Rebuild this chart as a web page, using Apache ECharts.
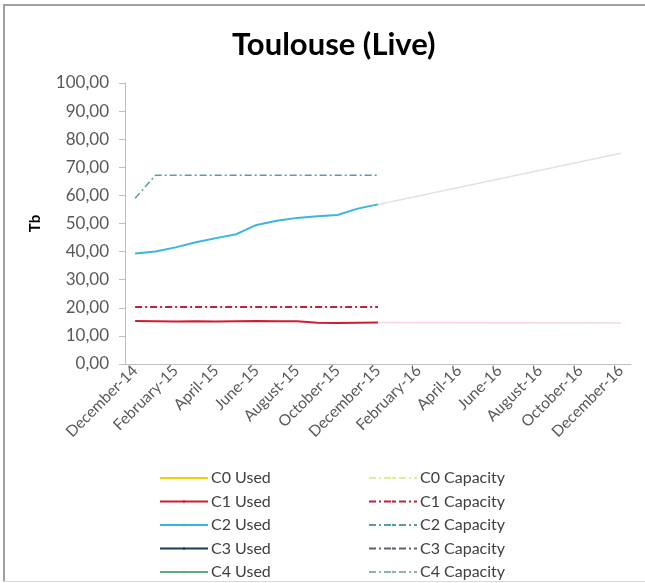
<!DOCTYPE html>
<html>
<head>
<meta charset="utf-8">
<script src="https://cdn.jsdelivr.net/npm/echarts@6/dist/echarts.min.js"></script>
<style>
html,body{margin:0;padding:0;background:#fff;}
#chart{width:645px;height:583px;}
</style>
</head>
<body>
<div id="chart"></div>
<script>
const months = ['December-14','January-15','February-15','March-15','April-15','May-15','June-15','July-15','August-15','September-15','October-15','November-15','December-15','January-16','February-16','March-16','April-16','May-16','June-16','July-16','August-16','September-16','October-16','November-16','December-16'];
const c0Used = [];
const c1Used = [15.3, 15.2, 15.1, 15.2, 15.1, 15.2, 15.3, 15.2, 15.2, 14.7, 14.6, 14.7, 14.8];
const c2Used = [39.3, 40.0, 41.5, 43.3, 44.8, 46.2, 49.5, 51.0, 52.0, 52.6, 53.0, 55.3, 56.8];
const c3Used = [];
const c4Used = [];
const c0Capacity = [];
const c1Capacity = [20.3, 20.3, 20.3, 20.3, 20.3, 20.3, 20.3, 20.3, 20.3, 20.3, 20.3, 20.3, 20.3];
const c2Capacity = [59.0, 67.2, 67.2, 67.2, 67.2, 67.2, 67.2, 67.2, 67.2, 67.2, 67.2, 67.2, 67.2];
const c3Capacity = [];
const c4Capacity = [];
const c1Trend = [null,null,null,null,null,null,null,null,null,null,null,null,14.8,null,null,null,null,null,null,null,null,null,null,null,14.6];
const c2Trend = [null,null,null,null,null,null,null,null,null,null,null,null,56.8,null,null,null,null,null,null,null,null,null,null,null,75.0];
const yTicks = [0,10,20,30,40,50,60,70,80,90,100];

const font = 'Lato, "Open Sans", sans-serif';
const dashDot = [7,3,2,3];

function line(name, data, color, width, dashed){
  return {
    name: name, type: 'line', data: data, symbol: 'none', smooth: false,
    lineStyle: {color: color, width: width, type: dashed ? dashDot : 'solid'},
    itemStyle: {color: color}, z: 3
  };
}

const chart = echarts.init(document.getElementById('chart'), null, {renderer: 'canvas'});
chart.setOption({
  backgroundColor: '#ffffff',
  animation: false,
  title: {
    text: 'Toulouse (Live)', left: 227, top: 24,
    textStyle: {fontFamily: font, fontSize: 31, fontWeight: 'bold', color: '#000'}
  },
  graphic: [
    {type: 'rect', shape: {x: 3, y: 4, width: 2, height: 578}, style: {fill: '#a0a0a0'}},
    {type: 'rect', shape: {x: 3, y: 4, width: 642, height: 2}, style: {fill: '#a0a0a0'}},
    {type: 'rect', shape: {x: 3, y: 581, width: 642, height: 1}, style: {fill: '#d8d8d8'}}
  ],
  grid: {left: 125, top: 83, width: 506, bottom: 219, containLabel: false},
  legend: [
    {
      data: ['C0 Used','C1 Used','C2 Used','C3 Used','C4 Used'],
      orient: 'vertical', left: 159, top: 470, height: 160, padding: 0,
      itemWidth: 48, itemHeight: 3, itemGap: 7.5,
      textStyle: {fontFamily: font, fontSize: 16, color: '#404040', padding: [0,0,0,-2]}
    },
    {
      data: ['C0 Capacity','C1 Capacity','C2 Capacity','C3 Capacity','C4 Capacity'],
      orient: 'vertical', left: 368, top: 470, height: 160, padding: 0,
      itemWidth: 48, itemHeight: 3, itemGap: 7.5,
      textStyle: {fontFamily: font, fontSize: 16, color: '#404040', padding: [0,0,0,-2]}
    }
  ],
  xAxis: {
    type: 'category', data: months, boundaryGap: true,
    axisLine: {lineStyle: {color: '#bfbfbf', width: 1}},
    axisTick: {show: false},
    axisLabel: {interval: 1, rotate: 45, fontFamily: font, fontSize: 15.5, color: '#595959', margin: 4}
  },
  yAxis: {
    type: 'value', min: yTicks[0], max: yTicks[yTicks.length-1], interval: 10,
    name: 'Tb', nameLocation: 'middle', nameGap: 82, nameRotate: 90,
    nameTextStyle: {fontFamily: font, fontSize: 15, fontWeight: 'bold', color: '#000'},
    axisLine: {show: true, lineStyle: {color: '#bfbfbf'}},
    axisTick: {show: true, length: 6, lineStyle: {color: '#bfbfbf'}},
    splitLine: {show: false},
    axisLabel: {fontFamily: font, fontSize: 17, color: '#595959', margin: 16,
      formatter: v => v.toFixed(2).replace('.', ',')}
  },
  series: [
    line('C0 Used', c0Used, '#f5d000', 2, false),
    line('C1 Used', c1Used, '#d01c30', 2, false),
    line('C2 Used', c2Used, '#3ab4e0', 2, false),
    line('C3 Used', c3Used, '#1c3a5c', 3.5, false),
    line('C4 Used', c4Used, '#5fa882', 2, false),
    line('C0 Capacity', c0Capacity, '#e4ea9a', 1.5, true),
    line('C1 Capacity', c1Capacity, '#c0203a', 2, true),
    line('C2 Capacity', c2Capacity, '#5a9aac', 1.5, true),
    line('C3 Capacity', c3Capacity, '#5a6270', 1.5, true),
    line('C4 Capacity', c4Capacity, '#8ab8a8', 1.5, true),
    {name: 'C1 Trend', type: 'line', data: c1Trend, connectNulls: true, symbol: 'none',
      lineStyle: {color: '#f6d6d8', width: 1.5}, z: 2},
    {name: 'C2 Trend', type: 'line', data: c2Trend, connectNulls: true, symbol: 'none',
      lineStyle: {color: '#e2e2e2', width: 1.5}, z: 2}
  ]
});
</script>
</body>
</html>
